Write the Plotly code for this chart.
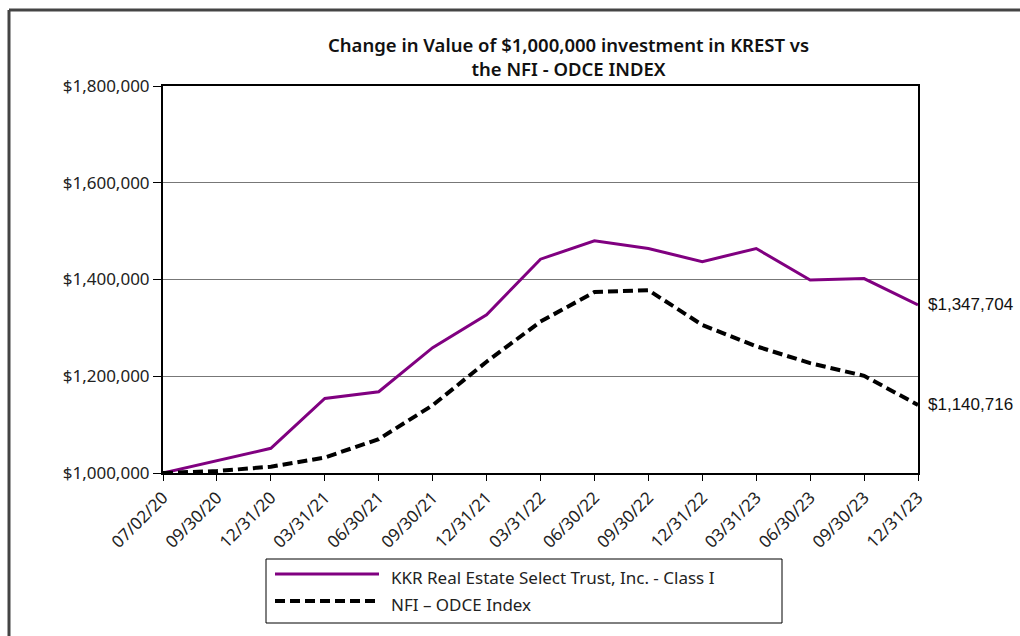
import plotly.graph_objects as go

dates = ["07/02/20", "09/30/20", "12/31/20", "03/31/21", "06/30/21", "09/30/21",
         "12/31/21", "03/31/22", "06/30/22", "09/30/22", "12/31/22", "03/31/23",
         "06/30/23", "09/30/23", "12/31/23"]
krest = [1000000, 1025000, 1051000, 1154000, 1168000, 1259000, 1327000, 1442000,
         1480000, 1464000, 1437000, 1464000, 1399000, 1402000, 1347704]
nfi = [1000000, 1004000, 1013000, 1032000, 1070000, 1140000, 1230000, 1313000,
       1374000, 1378000, 1306000, 1262000, 1227000, 1201000, 1140716]
y_ticks = [1000000, 1200000, 1400000, 1600000, 1800000]
names = ["KKR Real Estate Select Trust, Inc. - Class I", "NFI \u2013 ODCE Index"]

TICKFONT = dict(family="Noto Sans", size=17, color="#222")
L, R, T, B = 163, 918, 86, 473
W, H = R - L, B - T


def px(x):
    return (x - L) / W


def py(y):
    return (B - y) / H


fig = go.Figure()
fig.add_trace(go.Scatter(x=dates, y=krest, mode="lines", name=names[0],
                         line=dict(color="#800080", width=3)))
fig.add_trace(go.Scatter(x=dates, y=nfi, mode="lines", name=names[1],
                         line=dict(color="black", width=4, dash="10px,5px")))

for val in (krest[-1], nfi[-1]):
    fig.add_annotation(x=dates[-1], y=val, text="${:,.0f}".format(val),
                       xanchor="left", yanchor="middle", xshift=8, showarrow=False,
                       font=dict(family="Liberation Sans", size=17, color="#111"))

fig.add_annotation(xref="paper", yref="paper", x=px(568), y=py(57),
                   text="Change in Value of $1,000,000 investment in KREST vs<br>the NFI - ODCE INDEX",
                   showarrow=False, xanchor="center", yanchor="middle",
                   font=dict(family="Noto Sans", size=18.5, weight=600, color="#111"))

# outer frame
fig.add_shape(type="line", xref="paper", yref="paper",
              x0=px(9), x1=px(1030), y0=py(10), y1=py(10),
              line=dict(color="#444", width=3))
fig.add_shape(type="line", xref="paper", yref="paper",
              x0=px(9), x1=px(9), y0=py(10), y1=py(650),
              line=dict(color="#444", width=3))
# legend box and entries
fig.add_shape(type="rect", xref="paper", yref="paper",
              x0=px(266), x1=px(782), y0=py(559), y1=py(623),
              line=dict(color="black", width=1))
fig.add_shape(type="line", xref="paper", yref="paper",
              x0=px(275), x1=px(379), y0=py(574), y1=py(574),
              line=dict(color="#800080", width=3))
fig.add_shape(type="line", xref="paper", yref="paper",
              x0=px(275), x1=px(379), y0=py(601), y1=py(601),
              line=dict(color="black", width=4, dash="10px,5px"))
for name, yy in zip(names, (577, 604)):
    fig.add_annotation(xref="paper", yref="paper", x=px(389), y=py(yy), text=name,
                       showarrow=False, xanchor="left", yanchor="middle",
                       font=dict(family="Noto Sans", size=17, color="#222"))

fig.update_layout(
    width=1020, height=636,
    margin=dict(l=L, r=1020 - R, t=T, b=636 - B),
    plot_bgcolor="white", paper_bgcolor="white",
    showlegend=False,
    xaxis=dict(type="category", range=[0, 14], tickangle=-45,
               showline=True, linecolor="black", linewidth=2, mirror=True,
               ticks="outside", ticklen=6, tickcolor="black", showgrid=False,
               tickfont=TICKFONT),
    yaxis=dict(range=[1000000, 1800000], tickvals=y_ticks,
               ticktext=["${:,.0f}".format(v) for v in y_ticks],
               showline=True, linecolor="black", linewidth=2, mirror=True,
               ticks="outside", ticklen=8, tickcolor="black",
               showgrid=True, gridcolor="#777", gridwidth=1,
               tickfont=TICKFONT, zeroline=False),
)

fig.write_html("out.html", config={"displayModeBar": False},
               post_script="document.body.style.margin='0';document.body.style.overflow='hidden';")
